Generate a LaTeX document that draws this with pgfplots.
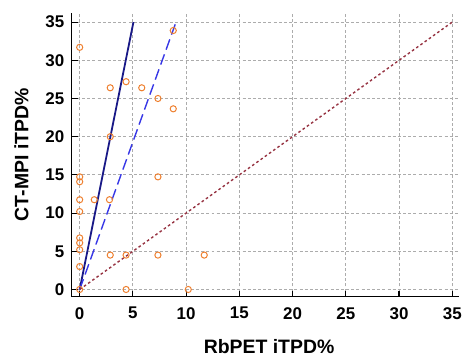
\documentclass[border=0pt]{standalone}
\usepackage{pgfplots}
\pgfplotsset{compat=1.18}
\usepackage{fontspec}
\setmainfont{Liberation Sans}
\definecolor{mkorange}{RGB}{238,128,48}
\definecolor{navyline}{RGB}{25,25,135}
\definecolor{blueline}{RGB}{55,55,230}
\definecolor{redline}{RGB}{150,50,65}
\begin{document}
\begin{tikzpicture}
\begin{axis}[
  scale only axis,
  width=388.6pt, height=285pt,
  xmin=-0.75, xmax=35.6, ymin=-0.95, ymax=36.2,
  axis x line*=bottom, axis y line*=left,
  axis line style={line width=1.4pt, -},
  xtick={0,5,...,35}, ytick={0,5,...,35},
  tick align=inside, major tick length=6pt,
  tick style={black, line width=1.1pt},
  grid=major,
  major grid style={gray!65, dash pattern=on 3pt off 2.2pt, line width=0.9pt},
  /pgf/number format/assume math mode=true,
  tick label style={font=\fontsize{17}{19}\selectfont\bfseries},
  xticklabel style={yshift=-7pt},
  yticklabel style={xshift=-4pt},
  label style={font=\fontsize{19.5}{21}\selectfont\bfseries, inner sep=0pt},
  xlabel={RbPET iTPD\%}, ylabel={CT-MPI iTPD\%},
  xlabel style={at={(axis description cs:0.51,0)}, anchor=base, yshift=-57pt},
  ylabel style={at={(axis description cs:-0.112,0.5)}, anchor=base, rotate=0},
  clip=false,
]
\path (rel axis cs:-0.1853,-0.2105) rectangle (rel axis cs:1.0113,1.0456);
\addplot[navyline, line width=1.8pt] coordinates {(0,0) (5.05,35)};
\addplot[blueline, line width=1.4pt, dash pattern=on 11pt off 5pt] coordinates {(0,0) (9.05,35)};
\addplot[redline, line width=1.4pt, dash pattern=on 2.6pt off 2.6pt] coordinates {(0,0) (35,35)};
\addplot[only marks, mark=o, mark size=3.1pt, mkorange, mark options={line width=1pt}] coordinates {
(0,31.7) (2.87,26.4) (4.36,27.2) (5.83,26.4) (7.35,25.0) (8.79,23.65) (8.79,33.9) (2.87,20.0)
(7.35,14.74) (0,14.74) (0,14.1) (0,11.75) (1.37,11.75) (2.8,11.75) (0,10.2)
(0,6.75) (0,6.1) (0,5.2) (0,3.0) (0,0)
(2.87,4.5) (4.36,4.5) (7.35,4.5) (11.7,4.5) (4.36,0) (10.2,0)
};
\end{axis}
\end{tikzpicture}
\end{document}
